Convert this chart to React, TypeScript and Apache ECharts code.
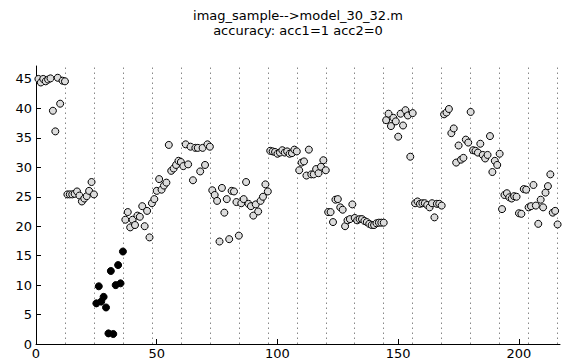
import React, { useEffect, useRef } from 'react';
import * as echarts from 'echarts';

const titleText = 'imag_sample-->model_30_32.m';
const subtitleText = 'accuracy: acc1=1 acc2=0';

// y value of sample x = 1..216
const values: number[] = [
  45.0, 44.4, 45.0, 44.6, 44.9, 45.1, 39.6, 36.1, 45.2, 40.8, 44.7, 44.6,
  25.4, 25.4, 25.4, 25.5, 25.9, 25.2, 24.2, 24.7, 25.1, 26.0, 27.5, 25.4,
  6.9, 9.8, 7.2, 8.0, 6.2, 1.8, 12.4, 1.7, 10.0, 13.4, 10.3, 15.7,
  21.1, 22.4, 19.8, 21.1, 20.2, 21.8, 21.6, 23.4, 20.0, 22.6, 18.1, 23.9,
  24.6, 26.0, 28.0, 26.2, 26.9, 27.4, 33.8, 29.4, 29.8, 30.4, 31.1, 30.9,
  30.2, 33.9, 30.5, 33.5, 27.8, 33.3, 33.3, 29.3, 33.3, 30.4, 33.9, 33.5,
  26.1, 25.3, 24.3, 17.4, 26.5, 22.3, 24.6, 17.8, 26.0, 25.9, 24.1, 18.4,
  23.9, 24.6, 27.5, 23.8, 23.4, 21.8, 23.7, 22.5, 24.3, 25.0, 27.1, 25.9,
  32.8, 32.7, 32.6, 32.3, 32.5, 32.9, 32.5, 32.7, 32.3, 32.4, 33.0, 32.7,
  29.5, 30.8, 31.0, 28.6, 33.0, 28.8, 28.8, 29.7, 29.0, 30.1, 31.2, 29.5,
  22.4, 22.4, 20.7, 24.5, 24.6, 23.2, 22.8, 20.0, 21.0, 21.2, 23.7, 21.4,
  21.0, 21.2, 21.2, 20.9, 20.7, 20.4, 20.2, 20.2, 20.5, 20.6, 20.6, 20.6,
  38.0, 39.1, 37.0, 38.4, 37.8, 35.2, 39.1, 37.1, 39.7, 38.8, 31.8, 39.2,
  23.9, 24.2, 23.8, 23.9, 23.9, 23.6, 23.2, 23.9, 21.5, 23.8, 23.8, 23.5,
  39.0, 39.3, 39.9, 35.8, 36.6, 30.8, 33.7, 31.3, 31.6, 34.7, 34.2, 39.4,
  32.9, 32.8, 32.5, 34.0, 32.1, 31.5, 32.1, 35.3, 29.2, 31.1, 30.4, 32.3,
  22.9, 25.3, 25.6, 24.9, 24.7, 25.1, 25.0, 22.2, 22.1, 26.3, 26.2, 23.2,
  23.4, 27.0, 23.5, 20.4, 24.5, 23.2, 25.7, 26.8, 28.8, 22.3, 22.6, 20.3,
];

// samples drawn as filled dots (inclusive range of x)
const filledRange: number[] = [25, 36];

// dotted group separators
const groupBoundaries: number[] = [12, 24, 36, 48, 60, 72, 84, 96, 108, 120, 132, 144, 156, 168, 180, 192, 204, 216];

const xTicks: number[] = [0, 50, 100, 150, 200];
const yTicks: number[] = [0, 5, 10, 15, 20, 25, 30, 35, 40, 45];

const FONT = '"DejaVu Sans", "Liberation Sans", Arial, sans-serif';

const titleStyle = {
  fontFamily: FONT,
  fontSize: 13,
  fontWeight: 'normal' as const,
  color: '#000',
  lineHeight: 14,
};

export default function App() {
  const ref = useRef<HTMLDivElement>(null);

  useEffect(() => {
    if (!ref.current) return;
    const chart = echarts.init(ref.current, null, { renderer: 'svg' });
    const openPts: number[][] = [];
    const filledPts: number[][] = [];
    values.forEach((v, i) => {
      const x = i + 1;
      if (x >= filledRange[0] && x <= filledRange[1]) filledPts.push([x, v]);
      else openPts.push([x, v]);
    });

    chart.setOption({
      animation: false,
      title: [
        { text: titleText, left: 298, top: 8, textAlign: 'center', padding: 0, textStyle: titleStyle },
        { text: subtitleText, left: 298, top: 23, textAlign: 'center', padding: 0, textStyle: titleStyle },
      ],
      grid: { left: 36, right: 4, top: 66, bottom: 14, containLabel: false },
      xAxis: {
        type: 'value',
        min: 0,
        max: 217,
        axisLine: { show: true, lineStyle: { color: '#000', width: 1 } },
        axisTick: { show: true, inside: true, length: 5, customValues: xTicks, lineStyle: { color: '#000' } },
        axisLabel: { customValues: xTicks, color: '#000', fontSize: 13, fontFamily: FONT, margin: 3 },
        splitLine: { show: false },
      },
      yAxis: {
        type: 'value',
        min: 0,
        max: 47.2,
        axisLine: { show: true, lineStyle: { color: '#000', width: 1 } },
        axisTick: { show: true, inside: true, length: 5, customValues: yTicks, lineStyle: { color: '#000' } },
        axisLabel: { customValues: yTicks, color: '#000', fontSize: 13, fontFamily: FONT, margin: 4 },
        splitLine: { show: false },
      },
      series: [
        {
          type: 'scatter',
          data: [],
          z: 1,
          silent: true,
          markLine: {
            z: 1,
            silent: true,
            symbol: ['none', 'none'],
            label: { show: false },
            lineStyle: { color: '#888', type: [1.5, 3.5], width: 1 },
            emphasis: { disabled: true },
            data: groupBoundaries.map((v) => ({ xAxis: v })),
          },
        },
        {
          type: 'scatter',
          data: openPts,
          z: 3,
          symbol: 'circle',
          symbolSize: 7,
          itemStyle: { color: '#dcdcdc', borderColor: '#000', borderWidth: 1, opacity: 1 },
        },
        {
          type: 'scatter',
          data: filledPts,
          z: 3,
          symbol: 'circle',
          symbolSize: 7,
          itemStyle: { color: '#000', borderColor: '#000', borderWidth: 1, opacity: 1 },
        },
      ],
    });

    return () => chart.dispose();
  }, []);

  return <div ref={ref} style={{ position: 'absolute', left: 0, top: 0, width: 564, height: 360 }} />;
}
